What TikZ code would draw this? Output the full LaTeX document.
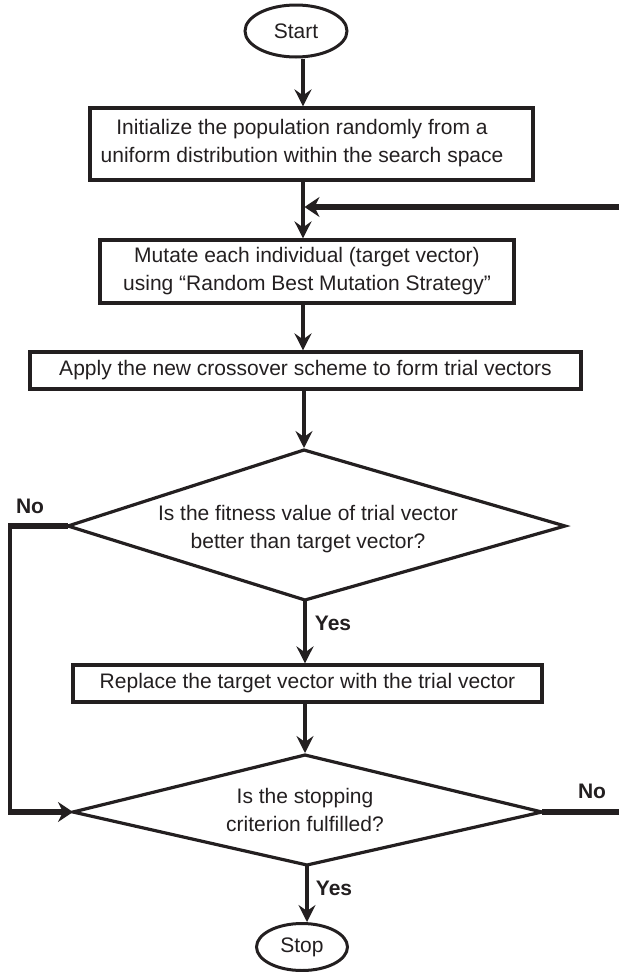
\documentclass[tikz,border=0pt]{standalone}
\usepackage{fontspec}
\setmainfont{Liberation Sans}
\usetikzlibrary{arrows.meta,shapes.geometric}
\definecolor{ink}{HTML}{231F20}
\begin{document}
\begin{tikzpicture}[x=1pt,y=-1pt,
  every node/.style={font=\fontsize{21}{28}\selectfont, text=ink},
  box/.style={draw=ink, line width=3.2pt, rectangle, inner sep=0pt, align=center},
  term/.style={draw=ink, line width=3pt, ellipse, inner sep=0pt},
  conn/.style={draw=ink, line width=3.5pt},
  arr/.style={conn, -{Stealth[length=17pt,width=17pt,inset=6pt]}},
  thickline/.style={draw=ink, line width=6.5pt},
  thickarr/.style={thickline, -{Stealth[length=15pt,width=20pt,inset=5pt]}},
  lbl/.style={font=\bfseries\fontsize{21}{25}\selectfont},
  txt/.style={align=center, inner sep=0pt},
  diam/.style={draw=ink, line width=3.2pt, line join=miter}
]
\useasboundingbox (0,0) rectangle (619,972);
\coordinate (sp) at (303,0);
% terminals and boxes
\node[term, minimum width=102pt, minimum height=52pt] (start) at (296,31) {Start};
\node[box, minimum width=443pt, minimum height=72pt] (b1) at (311.5,144) {};
\node[txt] (b1t) at (302,143) {Initialize the population randomly from a\\uniform distribution within the search space};
\node[box, minimum width=414pt, minimum height=63pt] (b2) at (307,271.5) {Mutate each individual (target vector)\\using “Random Best Mutation Strategy”};
\node[box, minimum width=551pt, minimum height=37pt] (b3) at (305.5,370.5) {Apply the new crossover scheme to form trial vectors};
\node[box, minimum width=469pt, minimum height=37pt] (b4) at (307.5,683.5) {Replace the target vector with the trial vector};
\node[term, minimum width=91pt, minimum height=47pt] (stop) at (302,947) {Stop};
% diamond 1
\coordinate (d1t) at (304,450);
\coordinate (d1r) at (565,526);
\coordinate (d1b) at (305,600);
\coordinate (d1l) at (68,526);
\draw[diam] (d1t) -- (d1r) -- (d1b) -- (d1l) -- cycle;
\node[txt] (d1) at (308,529) {Is the fitness value of trial vector\\better than target vector?};
% diamond 2
\coordinate (d2t) at (305,755);
\coordinate (d2r) at (542,812);
\coordinate (d2b) at (307,865);
\coordinate (d2l) at (73,812);
\draw[diam] (d2t) -- (d2r) -- (d2b) -- (d2l) -- cycle;
\node[txt] (d2) at (305,810) {Is the stopping\\criterion fulfilled?};
% helper coordinates
\coordinate (fb) at (619,207);
\coordinate (lt) at (8,526);
\coordinate (ltop) at (10,523);
\coordinate (lbot) at (10,815);
\coordinate (lbm) at (10,812);
\coordinate (rr) at (619,812);
% connectors
\draw[arr] ([xshift=7pt]start.south) -- ([xshift=7pt]start.south |- b1.north);
\draw[arr] (b1.south -| sp) -- (b2.north -| sp);
\draw[thickarr, shorten >=1.5pt] (fb) -- (fb -| sp);
\draw[arr] (b2.south -| sp) -- (b3.north -| sp);
\draw[arr, shorten >=2pt] (b3.south -| d1t) -- (d1t);
\draw[arr] (d1b) -- (d1b |- b4.north);
\draw[arr, shorten >=2pt] (b4.south -| d2t) -- (d2t);
\draw[arr] (d2b) -- (d2b |- stop.north);
\draw[thickline] (d1l) -- (lt);
\draw[conn] (ltop) -- (lbot);
\draw[thickarr] (lbm) -- (d2l);
\draw[thickline] (d2r) -- (rr);
% labels
\node[lbl] (y1) at (333,623) {Yes};
\node[lbl] (y2) at (334,888) {Yes};
\node[lbl] (n1) at (30,506) {No};
\node[lbl] (n2) at (592,791) {No};
\end{tikzpicture}
\end{document}
